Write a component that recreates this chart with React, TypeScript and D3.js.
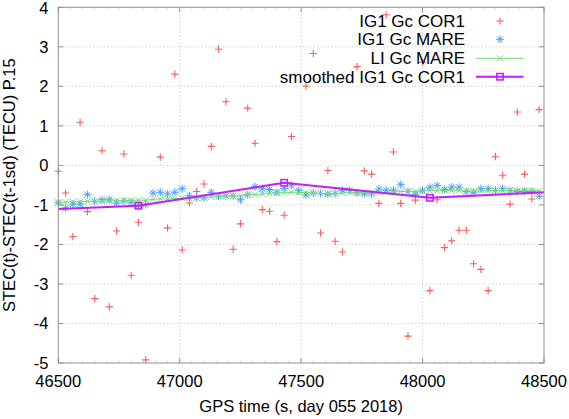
import React from "react";
import * as d3 from "d3";

// ---- data ----
const xTicks = [46500, 47000, 47500, 48000, 48500];
const yTicks = [-5, -4, -3, -2, -1, 0, 1, 2, 3, 4];

const corTimes = [46500, 46530, 46560, 46590, 46620, 46650, 46680, 46710, 46740, 46770,
  46800, 46830, 46860, 46920, 46950, 46980, 47010, 47040, 47070, 47100,
  47130, 47160, 47190, 47220, 47250, 47280, 47310, 47340, 47370, 47400,
  47430, 47460, 47520, 47550, 47580, 47610, 47640, 47670, 47730, 47760,
  47790, 47820, 47850, 47880, 47910, 47940, 47970, 48000, 48030, 48060,
  48090, 48120, 48150, 48180, 48210, 48240, 48270, 48300, 48330, 48360,
  48390, 48420, 48450, 48480];
const corValues = [-0.15, -0.70, -1.80, 1.09, -1.17, -3.37, 0.37, -3.58, -1.66, 0.29,
  -2.78, -1.44, -4.92, 0.21, -1.58, 2.31, -2.14, -0.95, -0.66, -0.47,
  0.48, 2.94, 1.61, -2.12, -1.48, 1.45, 0.56, -1.12, -1.16, -1.93,
  -1.26, 0.73, 2.01, 2.83, -1.71, -0.13, -1.92, -2.19, 2.50, -0.14,
  -0.22, -0.96, 3.81, 0.34, -0.96, -4.32, -0.88, 2.61, -3.17, -0.87,
  -2.08, -1.91, -1.64, -1.64, -2.49, -2.63, -3.17, 0.22, -0.25, -0.98,
  1.35, -0.22, -0.85, 1.41];

const mareTimes = [46500, 46530, 46560, 46590, 46620, 46650, 46680, 46710, 46740, 46770,
  46800, 46830, 46860, 46890, 46920, 46950, 46980, 47010, 47040, 47070,
  47100, 47130, 47160, 47190, 47220, 47250, 47280, 47310, 47340, 47370,
  47400, 47430, 47460, 47490, 47520, 47550, 47580, 47610, 47640, 47670,
  47700, 47730, 47760, 47790, 47820, 47850, 47880, 47910, 47940, 47970,
  48000, 48030, 48060, 48090, 48120, 48150, 48180, 48210, 48240, 48270,
  48300, 48330, 48360, 48390, 48420, 48450, 48480];
const mareValues = [-0.95, -1.08, -0.98, -0.98, -0.74, -0.91, -0.87, -0.87, -0.95, -0.90,
  -0.93, -1.02, -0.99, -0.70, -0.68, -0.72, -0.68, -0.59, -0.77, -0.82,
  -0.82, -0.68, -0.78, -0.77, -0.77, -0.87, -0.74, -0.54, -0.59, -0.61,
  -0.68, -0.58, -0.50, -0.64, -0.75, -0.70, -0.71, -0.73, -0.71, -0.63,
  -0.63, -0.70, -0.72, -0.72, -0.60, -0.63, -0.63, -0.49, -0.66, -0.74,
  -0.63, -0.55, -0.51, -0.61, -0.55, -0.55, -0.66, -0.68, -0.59, -0.59,
  -0.63, -0.59, -0.63, -0.66, -0.66, -0.66, -0.78];
const liValues = [-0.93, -0.93, -0.92, -0.92, -0.91, -0.91, -0.90, -0.90, -0.90, -0.89,
  -0.89, -0.88, -0.88, -0.86, -0.85, -0.85, -0.84, -0.83, -0.83, -0.82,
  -0.81, -0.80, -0.78, -0.78, -0.77, -0.77, -0.75, -0.74, -0.72, -0.71,
  -0.70, -0.69, -0.68, -0.68, -0.69, -0.70, -0.71, -0.71, -0.71, -0.70,
  -0.69, -0.69, -0.69, -0.70, -0.69, -0.68, -0.67, -0.66, -0.66, -0.66,
  -0.65, -0.64, -0.64, -0.64, -0.64, -0.64, -0.65, -0.65, -0.65, -0.64,
  -0.64, -0.64, -0.64, -0.64, -0.64, -0.64, -0.64];

const smoothTimes = [46230, 46830, 47430, 48030, 48630];
const smoothValues = [-1.17, -1.02, -0.44, -0.82, -0.64];

const legendLabels = ["IG1 Gc COR1", "IG1 Gc MARE", "LI Gc MARE", "smoothed IG1 Gc COR1"];

// ---- style ----
const W = 569, H = 419;
const L = 58.3, R = 544, T = 7.3, B = 363;
const RED = "#ff5c5c", BLUE = "#4a9dff", GREEN = "#72dc72", PURPLE = "#c21cff";
const FONT = "'Liberation Sans', Arial, sans-serif";
const FS = 16.5;
const LEG_FS = 17;

const x = d3.scaleLinear().domain([46500, 48500]).range([L, R]);
const y = d3.scaleLinear().domain([-5, 4]).range([B, T]);

function Plus({ cx, cy, r = 3.6 }: { cx: number; cy: number; r?: number }) {
  return <path d={`M${cx - r},${cy}H${cx + r}M${cx},${cy - r}V${cy + r}`} stroke={RED} strokeWidth={1.1} fill="none" />;
}
function Star({ cx, cy, r = 4 }: { cx: number; cy: number; r?: number }) {
  const d = r * 0.72;
  return <path d={`M${cx - r},${cy}H${cx + r}M${cx},${cy - r}V${cy + r}M${cx - d},${cy - d}L${cx + d},${cy + d}M${cx - d},${cy + d}L${cx + d},${cy - d}`} stroke={BLUE} strokeWidth={1} fill="none" />;
}
function Cross({ cx, cy, r = 3 }: { cx: number; cy: number; r?: number }) {
  return <path d={`M${cx - r},${cy - r}L${cx + r},${cy + r}M${cx - r},${cy + r}L${cx + r},${cy - r}`} stroke={GREEN} strokeWidth={1} fill="none" />;
}
function Square({ cx, cy, r = 3.2 }: { cx: number; cy: number; r?: number }) {
  return <rect x={cx - r} y={cy - r} width={2 * r} height={2 * r} stroke={PURPLE} strokeWidth={1.5} fill="none" />;
}

export default function App() {
  const liLine = d3.line<number>()
    .x((_, i) => x(mareTimes[i]))
    .y((v) => y(v))(liValues) || "";
  const smLine = d3.line<number>()
    .x((_, i) => x(smoothTimes[i]))
    .y((v) => y(v))(smoothValues) || "";
  const minor = d3.range(46500, 48501, 50).filter((t) => (t - 46500) % 500 !== 0);
  const legY = [21, 39.3, 58.3, 76.7];
  const legTextX = 465, legS0 = 476, legS1 = 523.5, legM = 500;

  return (
    <svg width={W} height={H} style={{ position: "absolute", left: 0, top: 0, background: "#fff" }} fontFamily={FONT}>
      <defs>
        <clipPath id="plotclip"><rect x={L} y={T} width={R - L} height={B - T} /></clipPath>
      </defs>
      <rect width={W} height={H} fill="#fff" />
      {/* grid */}
      {xTicks.slice(1, -1).map((t) => (
        <line key={"gx" + t} x1={x(t)} x2={x(t)} y1={T} y2={B} stroke="#b4b4b4" strokeWidth={0.8} strokeDasharray="1,2.5" />
      ))}
      {yTicks.slice(1, -1).map((t) => (
        <line key={"gy" + t} x1={L} x2={R} y1={y(t)} y2={y(t)} stroke="#b4b4b4" strokeWidth={0.8} strokeDasharray="1,2.5" />
      ))}
      {/* ticks */}
      {xTicks.map((t) => (
        <g key={"tx" + t}>
          <line x1={x(t)} x2={x(t)} y1={B} y2={B - 5} stroke="#909090" />
          <line x1={x(t)} x2={x(t)} y1={T} y2={T + 5} stroke="#909090" />
          <text x={x(t)} y={387} textAnchor="middle" fontSize={FS} fill="#000">{t}</text>
        </g>
      ))}
      {minor.map((t) => (
        <g key={"mx" + t}>
          <line x1={x(t)} x2={x(t)} y1={B} y2={B - 2} stroke="#c8c8c8" strokeWidth={0.8} />
          <line x1={x(t)} x2={x(t)} y1={T} y2={T + 2} stroke="#c8c8c8" strokeWidth={0.8} />
        </g>
      ))}
      {yTicks.map((t) => (
        <g key={"ty" + t}>
          <line x1={L} x2={L + 5} y1={y(t)} y2={y(t)} stroke="#909090" />
          <line x1={R} x2={R - 5} y1={y(t)} y2={y(t)} stroke="#909090" />
          <text x={48.5} y={Math.max(y(t), 8.5)} dy="0.36em" textAnchor="end" fontSize={FS} fill="#000">{t}</text>
        </g>
      ))}
      {/* data */}
      <g>
        {corTimes.map((t, i) => <Plus key={"c" + i} cx={x(t)} cy={y(corValues[i])} />)}
      </g>
      <g>
        {mareTimes.map((t, i) => <Star key={"m" + i} cx={x(t)} cy={y(mareValues[i])} />)}
      </g>
      <g>
        <path d={liLine} stroke={GREEN} strokeWidth={1} fill="none" />
        {mareTimes.map((t, i) => <Cross key={"l" + i} cx={x(t)} cy={y(liValues[i])} />)}
      </g>
      <g>
        <path d={smLine} stroke={PURPLE} strokeWidth={2} fill="none" clipPath="url(#plotclip)" />
        {smoothTimes.map((t, i) => (t >= 46500 && t <= 48500 ? <Square key={"s" + i} cx={x(t)} cy={y(smoothValues[i])} /> : null))}
      </g>
      {/* legend */}
      {legendLabels.map((lab, i) => (
        <text key={"lg" + i} x={legTextX} y={legY[i]} dy="0.36em" textAnchor="end" fontSize={LEG_FS} fill="#000">{lab}</text>
      ))}
      <Plus cx={legM} cy={legY[0]} />
      <Star cx={legM} cy={legY[1]} />
      <line x1={legS0} x2={legS1} y1={legY[2]} y2={legY[2]} stroke={GREEN} strokeWidth={1} />
      <Cross cx={legM} cy={legY[2]} />
      <line x1={legS0} x2={legS1} y1={legY[3]} y2={legY[3]} stroke={PURPLE} strokeWidth={2} />
      <Square cx={legM} cy={legY[3]} />
      {/* border */}
      <rect x={L} y={T} width={R - L} height={B - T} fill="none" stroke="#909090" strokeWidth={1} />
      {/* axis titles */}
      <text x={(L + R) / 2} y={412} textAnchor="middle" fontSize={FS} fill="#000">GPS time (s, day 055 2018)</text>
      <text transform={`translate(15,${(T + B) / 2}) rotate(-90)`} textAnchor="middle" fontSize={FS} fill="#000">STEC(t)-STEC(t-1sd) (TECU) P.15</text>
    </svg>
  );
}
